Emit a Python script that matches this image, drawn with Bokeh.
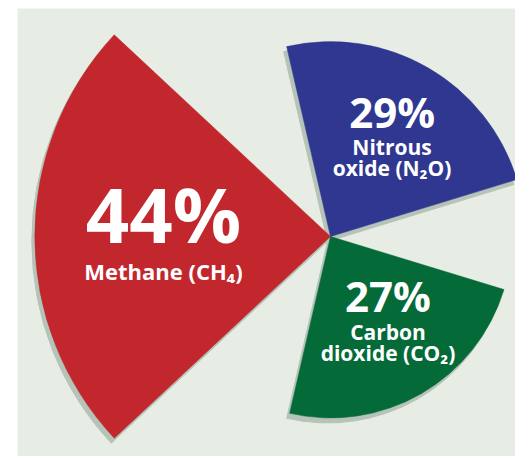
import numpy as np
from bokeh.plotting import figure
from bokeh.models import Range1d, ColumnDataSource
from bokeh.core.properties import value
from bokeh.embed import file_html
from bokeh.resources import INLINE

# ---- data ----
gases = ["Methane (CH₄)", "Nitrous oxide (N₂O)", "Carbon dioxide (CO₂)"]
label_lines = [["Methane (CH₄)"], ["Nitrous", "oxide (N₂O)"], ["Carbon", "dioxide (CO₂)"]]
shares = [44, 29, 27]
colors = ["#c1272d", "#2f3790", "#046a38"]

# ---- layout / style ----
PANEL = "#e7ede4"
SHADOW = "#b5c3b9"
SCALE = 6.72                 # px of radius per percentage point
centers_deg = [180, 60, -60]
half_width_deg = 43
shadow_dx, shadow_dy = -3, -5
FONT = "Open Sans"
pct_sizes = [76, 42, 42]
name_sizes = [22, 21, 21]
label_frac = [0.565, 0.58, 0.59]
label_nudge_deg = [0, -3, 2.5]
pct_offsets = [-6, 14, 15]          # baseline of percentage relative to anchor (px, up positive)
name_offsets = [[-43], [-13, -34], [-13, -34]]
BASE_FIX = 0.38                     # svg baseline compensation (em)

radii = np.array(shares) * SCALE
c = np.radians(centers_deg)
hw = np.radians(half_width_deg)
src = ColumnDataSource(dict(
    x=[0.0] * 3, y=[0.0] * 3, r=radii,
    sa=c - hw, ea=c + hw, color=colors,
    sx=[shadow_dx] * 3, sy=[shadow_dy] * 3,
))

p = figure(width=515, height=456, output_backend="svg", toolbar_location=None,
           x_range=Range1d(-313, 185), y_range=Range1d(-220, 228),
           min_border_left=17, min_border_right=0, min_border_top=8, min_border_bottom=0)
p.axis.visible = False
p.grid.visible = False
p.outline_line_color = None
p.background_fill_color = PANEL
p.border_fill_color = "white"

p.wedge(x="sx", y="sy", radius="r", start_angle="sa", end_angle="ea",
        fill_color=SHADOW, line_color=SHADOW, line_width=1, source=src)
p.wedge(x="x", y="y", radius="r", start_angle="sa", end_angle="ea",
        fill_color="color", line_color="color", line_width=0.5, source=src)

# labels
for i in range(3):
    ang = c[i] + np.radians(label_nudge_deg[i])
    ax = label_frac[i] * radii[i] * np.cos(ang)
    ay = label_frac[i] * radii[i] * np.sin(ang)
    p.text(x=[ax], y=[ay + pct_offsets[i] + BASE_FIX * pct_sizes[i]], text=[f"{shares[i]}%"],
           text_font=value(FONT), text_font_style="bold", text_color="white",
           text_font_size=f"{pct_sizes[i]}px", text_align="center",
           text_baseline="alphabetic")
    for line, off in zip(label_lines[i], name_offsets[i]):
        p.text(x=[ax], y=[ay + off + BASE_FIX * name_sizes[i]], text=[line],
               text_font=value(FONT), text_font_style="bold", text_color="white",
               text_font_size=f"{name_sizes[i]}px", text_align="center",
               text_baseline="alphabetic")

open("out.html", "w").write(file_html(p, INLINE))
